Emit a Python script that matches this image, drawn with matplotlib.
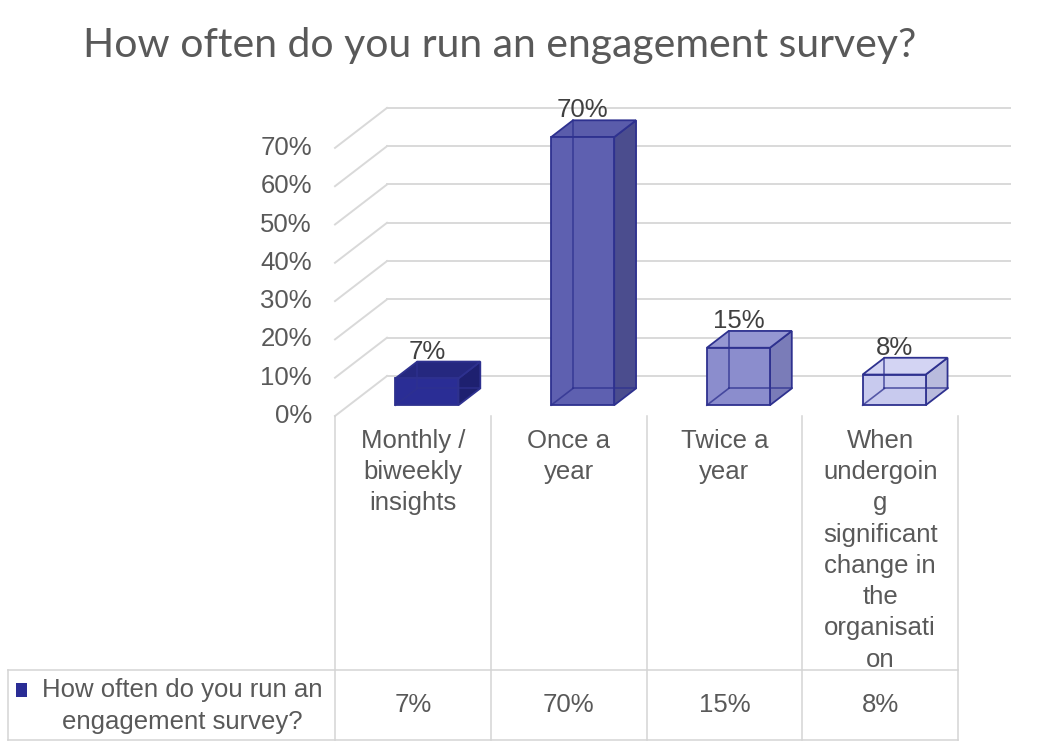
import matplotlib
matplotlib.use("Agg")
import matplotlib.pyplot as plt
import matplotlib.transforms as mtransforms
from matplotlib.patches import Polygon, Rectangle
from matplotlib.lines import Line2D

# chart data
title = "How often do you run an engagement survey?"
categories = ["Monthly /\nbiweekly\ninsights",
              "Once a\nyear",
              "Twice a\nyear",
              "When\nundergoin\ng\nsignificant\nchange in\nthe\norganisati\non"]
series_name = "How often do you run an\nengagement survey?"
values = [7, 70, 15, 8]
yticks = [0, 10, 20, 30, 40, 50, 60, 70]

# per-bar shades (front, top, side)
front_colors = ["#2a2d95", "#5e60b0", "#8b8dcd", "#c8caee"]
top_colors = ["#25287f", "#5a5cab", "#9597d2", "#d3d4f3"]
side_colors = ["#1e2070", "#4b4d8e", "#7a7cb8", "#b9bbdd"]
edge_color = "#2e318f"
grid_color = "#d9d9d9"
text_color = "#595959"
FS = 18.5

W, H = 1058, 750
fig = plt.figure(figsize=(W / 100, H / 100), dpi=100)
fig.patch.set_facecolor("white")

# plot area in pixels: front floor edge at y=416, first category at x=335
PX_X = 155.75   # px per category
PX_Y = 3.83     # px per percent
left, right, bottom, top = 335, 1015, 416, 95
ax = fig.add_axes([left / W, 1 - bottom / H, (right - left) / W, (bottom - top) / H])
ax.set_xlim(0, (right - left) / PX_X)
ax.set_ylim(0, (bottom - top) / PX_Y)
ax.axis("off")

# depth of the floor (front -> back wall) in data units
DX = 52 / PX_X
DY = 40 / PX_Y
n = len(values)

# side wall diagonals and back wall gridlines
for t in yticks:
    ax.plot([0, DX], [t, t + DY], color=grid_color, lw=1.4, zorder=1, clip_on=False)
    ax.plot([DX, n + DX], [t + DY, t + DY], color=grid_color, lw=1.4, zorder=1, clip_on=False)
    ax.text(-23 / PX_X, t, f"{t}%", ha="right", va="center", fontsize=FS,
            color=text_color, family="Liberation Sans")

# 3d bars
w = 0.405
d1, d2 = 0.27, 0.69
for i, v in enumerate(values):
    x0 = i + 0.5 - w / 2 + d1 * DX
    x1 = x0 + w
    y0 = d1 * DY
    bx = (d2 - d1) * DX
    by = (d2 - d1) * DY
    yt = y0 + v

    front = [(x0, y0), (x1, y0), (x1, yt), (x0, yt)]
    side = [(x1, y0), (x1 + bx, y0 + by), (x1 + bx, yt + by), (x1, yt)]
    top_f = [(x0, yt), (x1, yt), (x1 + bx, yt + by), (x0 + bx, yt + by)]
    for pts, c in [(side, side_colors[i]), (top_f, top_colors[i]), (front, front_colors[i])]:
        ax.add_patch(Polygon(pts, closed=True, facecolor=c, edgecolor=edge_color,
                             lw=1.3, zorder=3, clip_on=False))

    # edges behind the faces, seen through the shading
    hidden = [[(x0 + bx, y0 + by), (x0 + bx, yt + by)],
              [(x0 + bx, y0 + by), (x1 + bx, y0 + by)],
              [(x0, y0), (x0 + bx, y0 + by)]]
    for seg in hidden:
        xs, ys = zip(*seg)
        ax.plot(xs, ys, color=edge_color, lw=1.2, alpha=0.75, zorder=4, clip_on=False)

    ax.text(x0 + w / 2, yt + by + 10 / PX_Y, f"{v}%", ha="center", va="center",
            fontsize=FS, color="#404040", family="Liberation Sans", zorder=5)

# data table below the plot (columns follow the category axis)
tr = mtransforms.blended_transform_factory(ax.transData, fig.transFigure)
fy = lambda py: 1 - py / H
tab_left = (8 - left) / PX_X
row_top, row_bot = 670, 740

for k in range(n + 1):
    fig.add_artist(Line2D([k, k], [fy(bottom), fy(row_bot)], transform=tr,
                          color="#d4d4d4", lw=1.1))
for py in (row_top, row_bot):
    fig.add_artist(Line2D([tab_left, n], [fy(py), fy(py)], transform=tr,
                          color="#d4d4d4", lw=1.1))
fig.add_artist(Line2D([tab_left, tab_left], [fy(row_top), fy(row_bot)], transform=tr,
                      color="#d4d4d4", lw=1.1))

for i, (cat, v) in enumerate(zip(categories, values)):
    fig.text(i + 0.5, fy(429), cat, transform=tr, ha="center", va="top",
             multialignment="center", fontsize=FS, color=text_color,
             family="Liberation Sans", linespacing=1.38)
    fig.text(i + 0.5, fy(705), f"{v}%", transform=tr, ha="center", va="center",
             fontsize=FS, color=text_color, family="Liberation Sans")

# series label with its legend key
fig.add_artist(Rectangle(((16 - left) / PX_X, fy(697)), 11 / PX_X, 14 / H,
                         transform=tr, facecolor=front_colors[0], edgecolor="none"))
fig.text((182 - left) / PX_X, fy(706), series_name, transform=tr, ha="center",
         va="center", multialignment="center", fontsize=FS, color=text_color,
         family="Liberation Sans", linespacing=1.45)

fig.text(500 / W, fy(45), title, ha="center", va="center", fontsize=29.5,
         color=text_color, family="Lato")

fig.savefig("out.png", dpi=100)
